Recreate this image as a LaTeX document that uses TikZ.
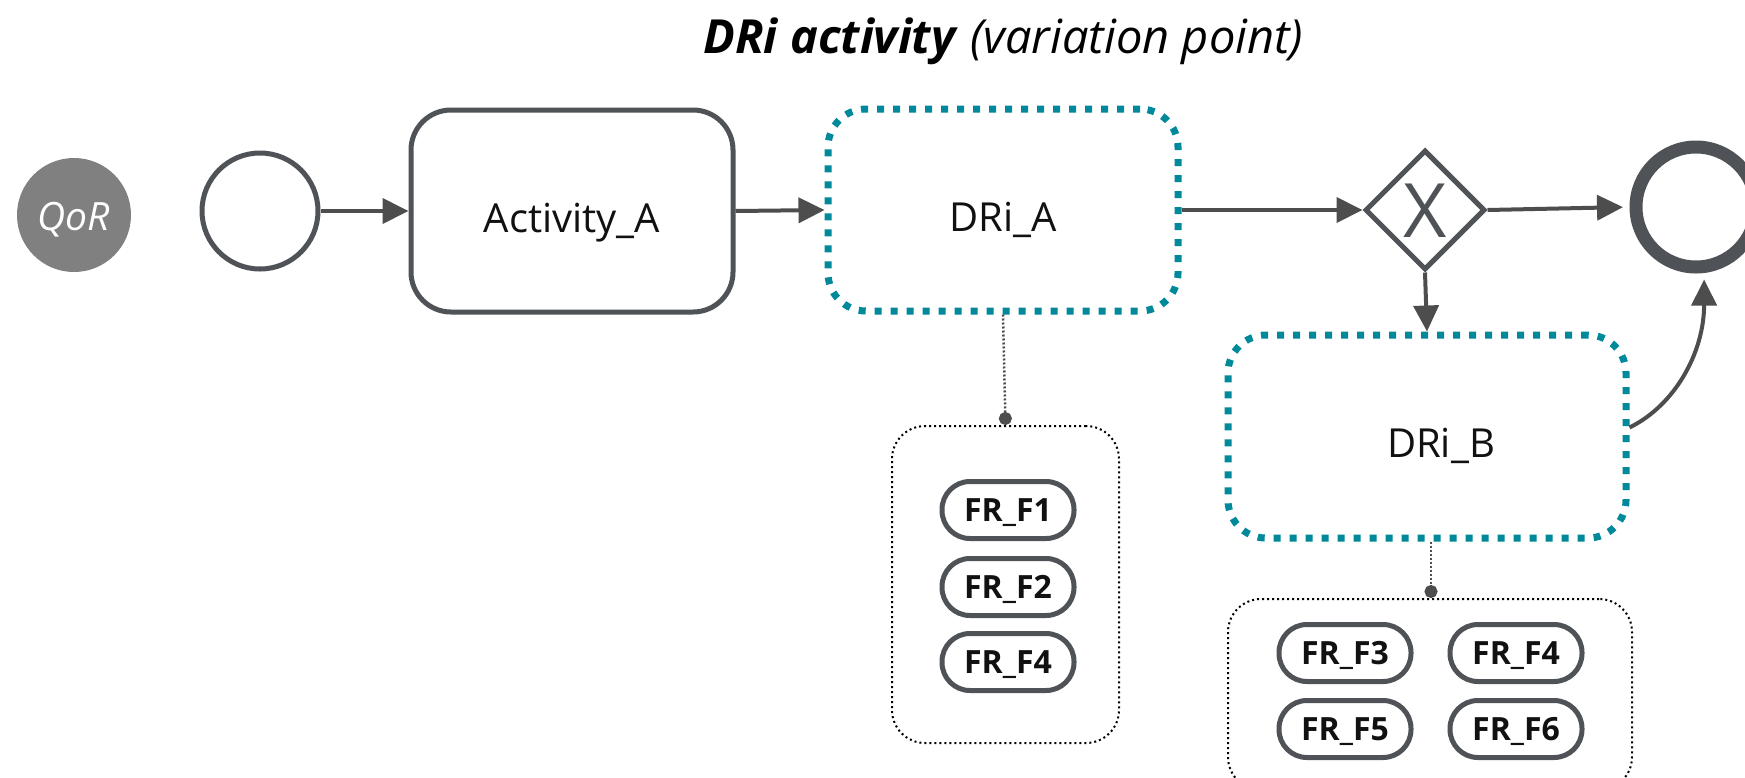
\documentclass[tikz,border=0pt]{standalone}
\usepackage{fontspec}
\setmainfont{Open Sans}
\usetikzlibrary{arrows.meta,shapes.geometric}

\definecolor{ink}{HTML}{4F5256}
\definecolor{flow}{HTML}{4D4D4D}
\definecolor{drteal}{HTML}{00889B}
\definecolor{qorgray}{HTML}{808080}
\definecolor{txt}{HTML}{111111}

\newcommand\setfs[1]{\fontsize{#1}{#1}\selectfont}

\tikzset{
  task/.style={draw=ink, line width=5pt, rounded corners=40pt,
    minimum width=322pt, minimum height=202pt, inner sep=0pt,
    font=\setfs{40}, text=txt, text height=42pt, text depth=0pt},
  variant/.style={draw=drteal, line width=7pt, dash pattern=on 7pt off 9pt,
    rounded corners=38pt, inner sep=0pt, font=\setfs{40}, text=txt,
    text height=42pt, text depth=0pt},
  startev/.style={circle, draw=ink, line width=5pt, minimum size=116pt, inner sep=0pt},
  endev/.style={circle, draw=ink, line width=13pt, minimum size=120pt, inner sep=0pt},
  gateway/.style={diamond, shape aspect=1, draw=ink, line width=5pt,
    minimum size=120pt, inner sep=0pt},
  gwmark/.style={font=\setfs{75}, text=ink, inner sep=0pt},
  qorbadge/.style={circle, fill=qorgray, minimum size=114pt, inner sep=0pt,
    font=\itshape\setfs{39}, text=white, text height=30pt, text depth=0pt},
  pill/.style={draw=ink, line width=5pt, rounded corners=28pt,
    minimum width=132pt, minimum height=57pt, inner sep=0pt,
    font=\bfseries\setfs{32}, text=txt, text height=23pt, text depth=0pt},
  group/.style={draw=black, line width=2pt, dash pattern=on 2pt off 3pt,
    rounded corners=33pt, inner sep=0pt},
  flowarrow/.style={draw=flow, line width=4pt, -{Triangle[length=26pt,width=25pt]}},
  assoc/.style={draw=flow, line width=2.5pt, dash pattern=on 2pt off 2pt,
    -{Circle[length=13pt]}},
}

\begin{document}
\begin{tikzpicture}[x=1pt, y=-1pt]
  \fill[white] (0,0) rectangle (1745,777);
  \useasboundingbox (0,0) rectangle (1745,777);

  % heading
  \node[anchor=base, inner sep=0pt, text=black, font=\setfs{47}] (title) at (1003.5,53)
    {\textbf{\textit{DRi activity}} \textit{(variation point)}};

  % process elements
  \node[qorbadge] (qor) at (74,215) {QoR};
  \node[startev] (start) at (260,211) {};
  \node[task] (act) at (572,211) {Activity\_A};
  \node[variant, minimum width=350pt, minimum height=202pt] (dria) at (1003,210) {DRi\_A};
  \node[gateway] (gw) at (1425,210) {};
  \node[gwmark, anchor=base] (gwx) at ([yshift=-27pt]gw.center) {X};
  \node[endev] (end) at (1696,207) {};
  \node[variant, minimum width=398pt, minimum height=203pt] (drib) at (1427,436.5)
    {\hspace*{28pt}DRi\_B};

  % feature groups
  \node[group, minimum width=227pt, minimum height=317pt] (box1) at (1005.5,584.5) {};
  \node[pill] (f1) at (1008,510) {FR\_F1};
  \node[pill] (f2) at (1008,587) {FR\_F2};
  \node[pill] (f4a) at (1008,662) {FR\_F4};

  \node[group, minimum width=404pt, minimum height=191pt] (box2) at (1430,694.5) {};
  \node[pill] (f3) at (1345,653) {FR\_F3};
  \node[pill] (f4b) at (1516,653) {FR\_F4};
  \node[pill] (f5) at (1345,729) {FR\_F5};
  \node[pill] (f6) at (1516,729) {FR\_F6};

  % sequence flows
  \draw[flowarrow] (start.east) -- (act.west);
  \draw[flowarrow] (act.east) -- (dria.west);
  \draw[flowarrow] (dria.east) -- (gw.west);
  \draw[flowarrow, shorten >=6.5pt] (gw.east) -- (end.west);
  \draw[flowarrow] (gw.south) -- (drib.north);
  \draw[flowarrow, shorten >=6.5pt] ([yshift=9pt]drib.east)
    .. controls +(45,-22) and +(0,80) .. (end.-83);

  % associations
  \draw[assoc] (dria.south) -- (box1.north);
  \draw[assoc] ([xshift=4pt]drib.south) -- ([xshift=1pt]box2.north);
\end{tikzpicture}
\end{document}
